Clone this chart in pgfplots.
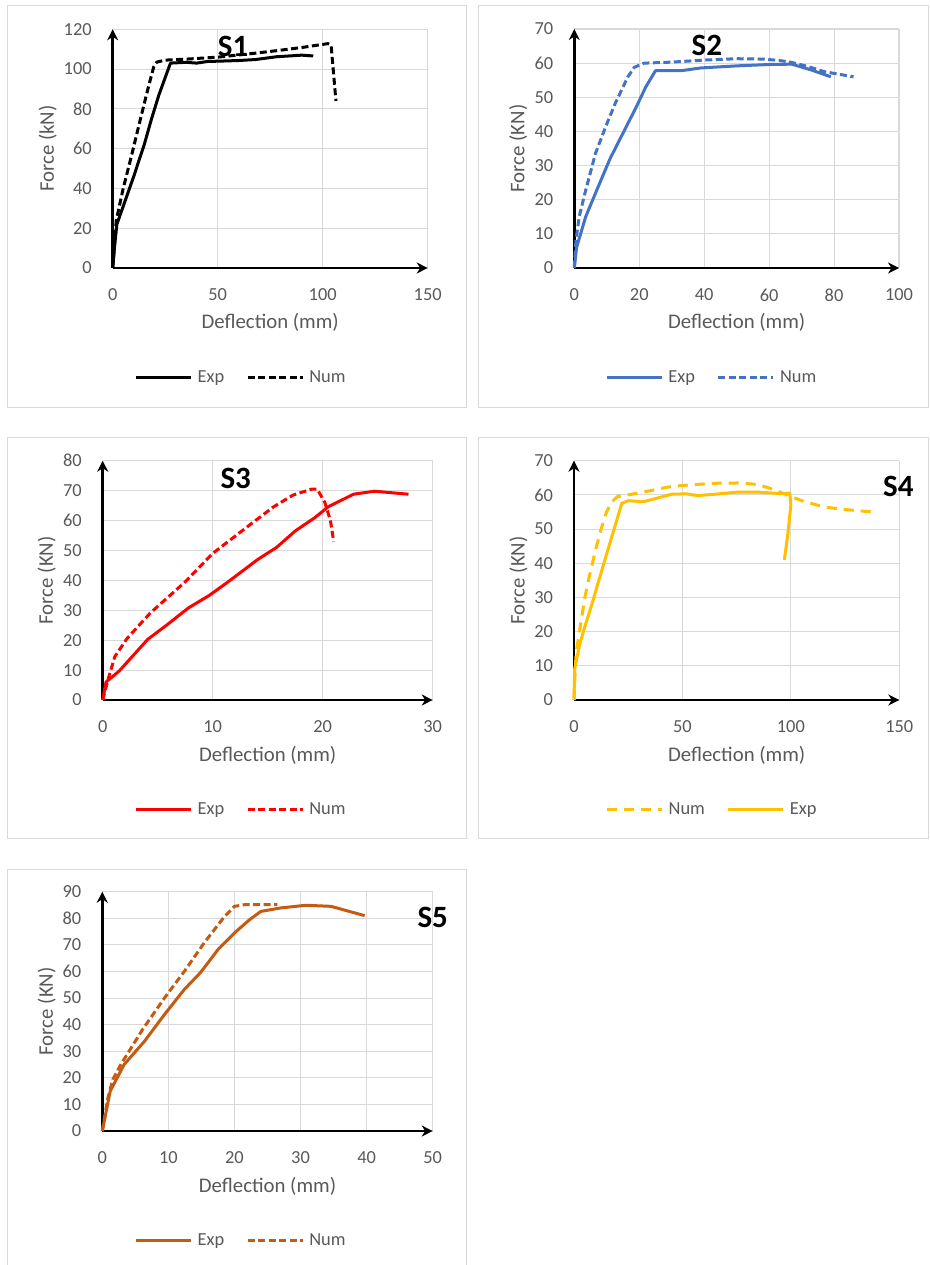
\documentclass[border=0pt]{standalone}
\usepackage{fontspec}
\setmainfont{Carlito}
\usepackage{pgfplots}
\pgfplotsset{compat=1.18}
\usetikzlibrary{arrows.meta}
\definecolor{txt}{HTML}{595959}
\definecolor{grd}{HTML}{D9D9D9}
\definecolor{cblue}{HTML}{4472C4}
\definecolor{cred}{HTML}{FF0000}
\definecolor{cyel}{HTML}{FFC000}
\definecolor{corg}{HTML}{C55A11}

\pgfplotsset{
  panel/.style={
    scale only axis,
    anchor=south west,
    axis lines=left,
    axis line style={line width=2.8pt, black, -{Stealth[length=11pt,width=11pt,inset=3.5pt]}},
    tick style={draw=none},
    grid=major,
    major grid style={grd, line width=1.1pt},
    enlargelimits=false,
    xmin=0, ymin=0,
    clip=false,
    /pgf/number format/assume math mode=true,
    tick label style={font=\fontsize{18.4}{20}\selectfont, text=txt, inner sep=0pt},
    yticklabel style={anchor=east, xshift=-18.7pt},
    xticklabel style={anchor=north, yshift=-18.7pt},
    every axis x label/.style={anchor=center, font=\fontsize{20.8}{24}\selectfont, text=txt},
    every axis y label/.style={anchor=center, rotate=90, font=\fontsize{20.8}{24}\selectfont, text=txt},
    every axis title/.style={anchor=center, font=\bfseries\fontsize{31}{34}\selectfont, text=black},
    legend style={draw=none, fill=none, anchor=center, font=\fontsize{18.4}{20}\selectfont, text=txt,
      nodes={inner sep=0pt},
      /tikz/every odd column/.append style={column sep=5.3pt},
      /tikz/every even column/.append style={column sep=21.7pt}},
    legend columns=2,
    legend image code/.code={\draw[#1, line width=3pt] (0pt,0pt) -- (55pt,0pt);},
  },
  sol/.style={line width=3pt, line join=round, solid},
  dsh/.style={line width=3pt, line join=round, dash pattern=on 7pt off 3.5pt},
  ldsh/.style={line width=3pt, line join=round, dash pattern=on 10pt off 7pt},
}

\begin{document}
\begin{tikzpicture}
\path[use as bounding box] (0pt,0pt) rectangle (929pt,-1265pt);
\fill[white] (0pt,0pt) rectangle (929pt,-1265pt);
\draw[grd, line width=1pt] (7pt,-6pt) rectangle (466pt,-407pt);
\draw[grd, line width=1pt] (478pt,-6pt) rectangle (928.5pt,-407pt);
\draw[grd, line width=1pt] (7pt,-437pt) rectangle (466pt,-838pt);
\draw[grd, line width=1pt] (478pt,-437pt) rectangle (928.5pt,-838pt);
\draw[grd, line width=1pt] (7pt,-1270pt) -- (7pt,-869pt) -- (466pt,-869pt) -- (466pt,-1270pt);

% ---------- S1 ----------
\begin{axis}[panel, at={(112.7pt,-268pt)}, width=315pt, height=238.7pt,
  xmax=150, ymax=120, xtick={0,50,100,150}, ytick={0,20,...,120},
  xlabel={Deflection (mm)}, ylabel={Force (kN)},
  xlabel style={at={(axis description cs:0.5,-0.229)}},
  ylabel style={at={(axis description cs:-0.206,0.5)}},
  title={S1}, title style={at={(axis description cs:0.382,0.927)}},
  legend style={at={(axis description cs:0.404,-0.4596)}}]
\addplot[sol, black] coordinates {(0,0) (1,12) (2,22) (5,31) (10,46) (15,62) (18.5,75) (22,87) (27.5,103) (35,103.4) (40,103) (45,103.8) (60,104.3) (68,104.8) (78,106.2) (90,107) (95.5,106.6)};
\addlegendentry{Exp}
\addplot[dsh, black] coordinates {(0,0) (1.7,24) (5,40) (9.2,57.5) (13,74) (17,91) (19.5,101) (21,103.5) (25,104.5) (35,105) (50,106) (68,108) (80,109.5) (91,111) (102.5,112.8) (104,112) (106.3,84)};
\addlegendentry{Num}
\end{axis}

% ---------- S2 ----------
\begin{axis}[panel, at={(574.3pt,-268pt)}, width=324.7pt, height=239pt,
  xmax=100, ymax=70, xtick={0,20,...,100}, ytick={0,10,...,70},
  xlabel={Deflection (mm)}, ylabel={Force (KN)},
  xlabel style={at={(axis description cs:0.5,-0.229)}},
  ylabel style={at={(axis description cs:-0.1725,0.5)}},
  title={S2}, title style={at={(axis description cs:0.408,0.933)}},
  legend style={at={(axis description cs:0.420,-0.459)}}]
\addplot[sol, cblue] coordinates {(0,0) (0.7,6) (3.5,15) (7,23) (11,32) (15,39.5) (19,47) (22,53) (25,57.8) (33,57.8) (39,58.6) (50,59.2) (60,59.6) (67,59.7) (73,58) (79,56)};
\addlegendentry{Exp}
\addplot[dsh, cblue] coordinates {(0,0) (0.5,8) (1.5,15) (3.3,22) (6.5,33.5) (9.5,41) (12.5,48) (16.5,56) (18.5,58.8) (21.5,60) (30,60.3) (40,60.9) (50,61.3) (58,61.2) (63,60.8) (67,60.2) (72,59) (77,57.5) (86,56)};
\addlegendentry{Num}
\end{axis}

% ---------- S3 ----------
\begin{axis}[panel, at={(102.7pt,-700pt)}, width=330pt, height=239.3pt,
  xmax=30, ymax=80, xtick={0,10,20,30}, ytick={0,10,...,80},
  xlabel={Deflection (mm)}, ylabel={Force (KN)},
  xlabel style={at={(axis description cs:0.5,-0.2299)}},
  ylabel style={at={(axis description cs:-0.170,0.5)}},
  title={S3}, title style={at={(axis description cs:0.403,0.926)}},
  legend style={at={(axis description cs:0.416,-0.4567)}}]
\addplot[sol, cred] coordinates {(0,0) (0.3,6) (1.5,9.7) (4.1,20.3) (5.8,25) (7.8,30.8) (9.7,35) (11.4,39.5) (14.1,47) (15.8,51) (17.5,56.5) (19.3,61) (20.5,64.6) (22.8,68.8) (24.7,69.8) (27.8,68.8)};
\addlegendentry{Exp}
\addplot[dsh, cred] coordinates {(0,0) (0.5,7) (1.1,14.5) (2.2,20.5) (4.3,29) (7.5,39.5) (10,49) (13,57.5) (15.5,64.5) (17.3,68.5) (19,70.5) (19.5,70.5) (20.2,66) (20.7,60) (21,53)};
\addlegendentry{Num}
\end{axis}

% ---------- S4 ----------
\begin{axis}[panel, at={(574pt,-700pt)}, width=325.3pt, height=239.3pt,
  xmax=150, ymax=70, xtick={0,50,100,150}, ytick={0,10,...,70},
  xlabel={Deflection (mm)}, ylabel={Force (KN)},
  xlabel style={at={(axis description cs:0.5,-0.2299)}},
  ylabel style={at={(axis description cs:-0.171,0.5)}},
  title={S4}, title style={at={(axis description cs:0.997,0.894)}},
  legend style={at={(axis description cs:0.421,-0.4567)}}]
\addplot[ldsh, cyel] coordinates {(0,0) (0.5,8) (1,14) (3,22) (5,30) (7,36) (10,44) (12.5,50) (15,55) (17.5,58) (20,59.5) (25,60) (35,61.2) (45,62.5) (55,63) (65,63.4) (77,63.5) (85,63) (90,62) (95,60.8) (105,58.3) (115,56.5) (125,55.7) (138,55)};
\addlegendentry{Num}
\addplot[sol, cyel] coordinates {(0,0) (0.3,9) (2.5,16) (5.5,22.5) (8,27.5) (11,34) (14,40.5) (18.5,50) (22,57.5) (25,58.3) (32,58) (38,59) (45,60.2) (52,60.3) (57,59.8) (65,60.2) (75,60.8) (85,60.8) (95,60.4) (99.5,60.5) (100,57) (98.5,48) (97,41)};
\addlegendentry{Exp}
\end{axis}

% ---------- S5 ----------
\begin{axis}[panel, at={(102.3pt,-1131pt)}, width=330.4pt, height=239.3pt,
  xmax=50, ymax=90, xtick={0,10,...,50}, ytick={0,10,...,90},
  xlabel={Deflection (mm)}, ylabel={Force (KN)},
  xlabel style={at={(axis description cs:0.5,-0.2299)}},
  ylabel style={at={(axis description cs:-0.168,0.5)}},
  title={S5}, title style={at={(axis description cs:1.0,0.893)}},
  legend style={at={(axis description cs:0.4168,-0.4555)}}]
\addplot[sol, corg] coordinates {(0,0) (1.2,15) (3.3,25) (6.4,33.8) (9.4,43.8) (12.4,53.2) (14.9,59.7) (17.5,68.2) (20,74.5) (22.3,79.5) (24,82.6) (27,83.9) (30.8,84.9) (34.6,84.5) (39.7,81)};
\addlegendentry{Exp}
\addplot[dsh, corg] coordinates {(0,0) (0.8,12) (1.6,19.4) (2.8,25) (6.1,38.2) (9.4,50) (12.4,60) (15.4,70.7) (18.5,80.7) (20,84.5) (21.5,85.1) (26.5,85.1)};
\addlegendentry{Num}
\end{axis}
\end{tikzpicture}
\end{document}
